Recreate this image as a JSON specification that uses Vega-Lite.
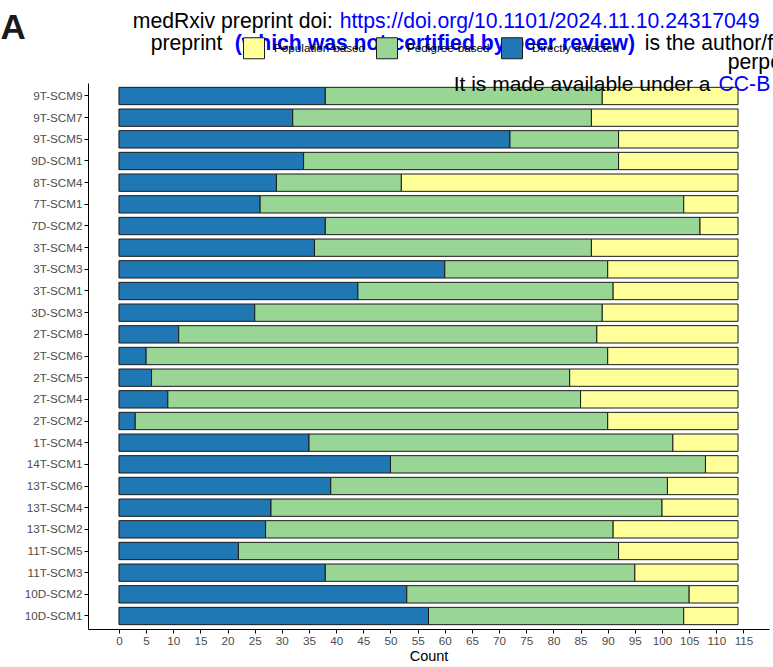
{
  "$schema": "https://vega.github.io/schema/vega-lite/v6.json",
  "autosize": "none",
  "width": 681,
  "height": 546,
  "padding": {"left": 88, "top": 83, "right": 4, "bottom": 38},
  "background": "white",
  "config": {
    "view": {"stroke": null},
    "font": "Liberation Sans",
    "axis": {"grid": false, "domainColor": "black", "domainWidth": 1, "tickColor": "black", "tickWidth": 1, "tickSize": 4, "labelColor": "#4D4D4D", "labelFontSize": 11.7, "labelFont": "Liberation Sans", "titleFont": "Liberation Sans"},
    "axisX": {"labelFlush": false, "labelOverlap": false, "labelPadding": 2, "titleFontSize": 14.5, "titleFontWeight": "normal", "titleColor": "black", "titlePadding": 3},
    "axisY": {"labelPadding": 2},
    "legend": {"labelFont": "Liberation Sans"}
  },
  "datasets": {
    "loci": [
      {"locus": "9T-SCM9", "type": "Directly detected", "count": 38}, {"locus": "9T-SCM9", "type": "Pedigree-based", "count": 51}, {"locus": "9T-SCM9", "type": "Population-based", "count": 25},
      {"locus": "9T-SCM7", "type": "Directly detected", "count": 32}, {"locus": "9T-SCM7", "type": "Pedigree-based", "count": 55}, {"locus": "9T-SCM7", "type": "Population-based", "count": 27},
      {"locus": "9T-SCM5", "type": "Directly detected", "count": 72}, {"locus": "9T-SCM5", "type": "Pedigree-based", "count": 20}, {"locus": "9T-SCM5", "type": "Population-based", "count": 22},
      {"locus": "9D-SCM1", "type": "Directly detected", "count": 34}, {"locus": "9D-SCM1", "type": "Pedigree-based", "count": 58}, {"locus": "9D-SCM1", "type": "Population-based", "count": 22},
      {"locus": "8T-SCM4", "type": "Directly detected", "count": 29}, {"locus": "8T-SCM4", "type": "Pedigree-based", "count": 23}, {"locus": "8T-SCM4", "type": "Population-based", "count": 62},
      {"locus": "7T-SCM1", "type": "Directly detected", "count": 26}, {"locus": "7T-SCM1", "type": "Pedigree-based", "count": 78}, {"locus": "7T-SCM1", "type": "Population-based", "count": 10},
      {"locus": "7D-SCM2", "type": "Directly detected", "count": 38}, {"locus": "7D-SCM2", "type": "Pedigree-based", "count": 69}, {"locus": "7D-SCM2", "type": "Population-based", "count": 7},
      {"locus": "3T-SCM4", "type": "Directly detected", "count": 36}, {"locus": "3T-SCM4", "type": "Pedigree-based", "count": 51}, {"locus": "3T-SCM4", "type": "Population-based", "count": 27},
      {"locus": "3T-SCM3", "type": "Directly detected", "count": 60}, {"locus": "3T-SCM3", "type": "Pedigree-based", "count": 30}, {"locus": "3T-SCM3", "type": "Population-based", "count": 24},
      {"locus": "3T-SCM1", "type": "Directly detected", "count": 44}, {"locus": "3T-SCM1", "type": "Pedigree-based", "count": 47}, {"locus": "3T-SCM1", "type": "Population-based", "count": 23},
      {"locus": "3D-SCM3", "type": "Directly detected", "count": 25}, {"locus": "3D-SCM3", "type": "Pedigree-based", "count": 64}, {"locus": "3D-SCM3", "type": "Population-based", "count": 25},
      {"locus": "2T-SCM8", "type": "Directly detected", "count": 11}, {"locus": "2T-SCM8", "type": "Pedigree-based", "count": 77}, {"locus": "2T-SCM8", "type": "Population-based", "count": 26},
      {"locus": "2T-SCM6", "type": "Directly detected", "count": 5}, {"locus": "2T-SCM6", "type": "Pedigree-based", "count": 85}, {"locus": "2T-SCM6", "type": "Population-based", "count": 24},
      {"locus": "2T-SCM5", "type": "Directly detected", "count": 6}, {"locus": "2T-SCM5", "type": "Pedigree-based", "count": 77}, {"locus": "2T-SCM5", "type": "Population-based", "count": 31},
      {"locus": "2T-SCM4", "type": "Directly detected", "count": 9}, {"locus": "2T-SCM4", "type": "Pedigree-based", "count": 76}, {"locus": "2T-SCM4", "type": "Population-based", "count": 29},
      {"locus": "2T-SCM2", "type": "Directly detected", "count": 3}, {"locus": "2T-SCM2", "type": "Pedigree-based", "count": 87}, {"locus": "2T-SCM2", "type": "Population-based", "count": 24},
      {"locus": "1T-SCM4", "type": "Directly detected", "count": 35}, {"locus": "1T-SCM4", "type": "Pedigree-based", "count": 67}, {"locus": "1T-SCM4", "type": "Population-based", "count": 12},
      {"locus": "14T-SCM1", "type": "Directly detected", "count": 50}, {"locus": "14T-SCM1", "type": "Pedigree-based", "count": 58}, {"locus": "14T-SCM1", "type": "Population-based", "count": 6},
      {"locus": "13T-SCM6", "type": "Directly detected", "count": 39}, {"locus": "13T-SCM6", "type": "Pedigree-based", "count": 62}, {"locus": "13T-SCM6", "type": "Population-based", "count": 13},
      {"locus": "13T-SCM4", "type": "Directly detected", "count": 28}, {"locus": "13T-SCM4", "type": "Pedigree-based", "count": 72}, {"locus": "13T-SCM4", "type": "Population-based", "count": 14},
      {"locus": "13T-SCM2", "type": "Directly detected", "count": 27}, {"locus": "13T-SCM2", "type": "Pedigree-based", "count": 64}, {"locus": "13T-SCM2", "type": "Population-based", "count": 23},
      {"locus": "11T-SCM5", "type": "Directly detected", "count": 22}, {"locus": "11T-SCM5", "type": "Pedigree-based", "count": 70}, {"locus": "11T-SCM5", "type": "Population-based", "count": 22},
      {"locus": "11T-SCM3", "type": "Directly detected", "count": 38}, {"locus": "11T-SCM3", "type": "Pedigree-based", "count": 57}, {"locus": "11T-SCM3", "type": "Population-based", "count": 19},
      {"locus": "10D-SCM2", "type": "Directly detected", "count": 53}, {"locus": "10D-SCM2", "type": "Pedigree-based", "count": 52}, {"locus": "10D-SCM2", "type": "Population-based", "count": 9},
      {"locus": "10D-SCM1", "type": "Directly detected", "count": 57}, {"locus": "10D-SCM1", "type": "Pedigree-based", "count": 47}, {"locus": "10D-SCM1", "type": "Population-based", "count": 10}
    ],
    "one": [{}]
  },
  "layer": [
    {
      "data": {"name": "loci"},
      "mark": {"type": "bar", "stroke": "#1a1a1a", "strokeWidth": 1},
      "encoding": {
        "y": {
          "field": "locus", "type": "nominal",
          "scale": {"domain": ["9T-SCM9","9T-SCM7","9T-SCM5","9D-SCM1","8T-SCM4","7T-SCM1","7D-SCM2","3T-SCM4","3T-SCM3","3T-SCM1","3D-SCM3","2T-SCM8","2T-SCM6","2T-SCM5","2T-SCM4","2T-SCM2","1T-SCM4","14T-SCM1","13T-SCM6","13T-SCM4","13T-SCM2","11T-SCM5","11T-SCM3","10D-SCM2","10D-SCM1"], "paddingInner": 0.2, "paddingOuter": 0.2},
          "axis": {"title": null}
        },
        "x": {
          "field": "count", "type": "quantitative", "stack": "zero",
          "scale": {"domain": [-5.7, 119.7], "nice": false, "zero": false},
          "axis": {"title": "Count", "values": [0,5,10,15,20,25,30,35,40,45,50,55,60,65,70,75,80,85,90,95,100,105,110,115]}
        },
        "color": {
          "field": "type", "type": "nominal",
          "scale": {"domain": ["Population-based", "Pedigree-based", "Directly detected"], "range": ["#FFFF99", "#99D594", "#1F78B4"]},
          "legend": {"title": null, "orient": "none", "legendX": 155, "legendY": -46, "direction": "horizontal", "symbolType": "square", "symbolSize": 441, "symbolStrokeColor": "#1a1a1a", "symbolStrokeWidth": 1, "symbolOpacity": 1, "labelFontSize": 11.7, "labelColor": "black", "labelOffset": 9, "columnPadding": 9, "padding": 0}
        },
        "order": {"field": "type", "sort": "ascending"}
      }
    },
    {
      "data": {"name": "one"},
      "mark": {"type": "text", "text": "A", "fontSize": 35, "fontWeight": "bold", "align": "left", "baseline": "alphabetic", "dy": -57.5, "color": "#1a1a1a"},
      "encoding": {"x": {"datum": -21.8, "type": "quantitative", "axis": {"title": "Count", "values": [0,5,10,15,20,25,30,35,40,45,50,55,60,65,70,75,80,85,90,95,100,105,110,115]}}, "y": {"datum": "9T-SCM9", "type": "nominal", "axis": {"title": null}}}
    },
    {
      "data": {"name": "one"},
      "mark": {"type": "text", "text": "medRxiv preprint doi:", "fontSize": 21.2, "align": "left", "baseline": "alphabetic", "dy": -68.5, "color": "black"},
      "encoding": {"x": {"datum": 2.54, "type": "quantitative", "axis": {"title": "Count", "values": [0,5,10,15,20,25,30,35,40,45,50,55,60,65,70,75,80,85,90,95,100,105,110,115]}}, "y": {"datum": "9T-SCM9", "type": "nominal", "axis": {"title": null}}}
    },
    {
      "data": {"name": "one"},
      "mark": {"type": "text", "text": "https://doi.org/10.1101/2024.11.10.24317049", "fontSize": 21.2, "align": "left", "baseline": "alphabetic", "dy": -68.5, "color": "#0000FF"},
      "encoding": {"x": {"datum": 40.64, "type": "quantitative", "axis": {"title": "Count", "values": [0,5,10,15,20,25,30,35,40,45,50,55,60,65,70,75,80,85,90,95,100,105,110,115]}}, "y": {"datum": "9T-SCM9", "type": "nominal", "axis": {"title": null}}}
    },
    {
      "data": {"name": "one"},
      "mark": {"type": "text", "text": ";", "fontSize": 21.2, "align": "left", "baseline": "alphabetic", "dy": -68.5, "color": "black"},
      "encoding": {"x": {"datum": 120.6, "type": "quantitative", "axis": {"title": "Count", "values": [0,5,10,15,20,25,30,35,40,45,50,55,60,65,70,75,80,85,90,95,100,105,110,115]}}, "y": {"datum": "9T-SCM9", "type": "nominal", "axis": {"title": null}}}
    },
    {
      "data": {"name": "one"},
      "mark": {"type": "text", "text": "preprint", "fontSize": 21.2, "align": "left", "baseline": "alphabetic", "dy": -46.5, "color": "black"},
      "encoding": {"x": {"datum": 5.84, "type": "quantitative", "axis": {"title": "Count", "values": [0,5,10,15,20,25,30,35,40,45,50,55,60,65,70,75,80,85,90,95,100,105,110,115]}}, "y": {"datum": "9T-SCM9", "type": "nominal", "axis": {"title": null}}}
    },
    {
      "data": {"name": "one"},
      "mark": {"type": "text", "text": "(which was not certified by peer review)", "fontSize": 21.2, "fontWeight": "bold", "align": "left", "baseline": "alphabetic", "dy": -46.5, "color": "#0000FF"},
      "encoding": {"x": {"datum": 21.31, "type": "quantitative", "axis": {"title": "Count", "values": [0,5,10,15,20,25,30,35,40,45,50,55,60,65,70,75,80,85,90,95,100,105,110,115]}}, "y": {"datum": "9T-SCM9", "type": "nominal", "axis": {"title": null}}}
    },
    {
      "data": {"name": "one"},
      "mark": {"type": "text", "text": "is the author/f", "fontSize": 21.2, "align": "left", "baseline": "alphabetic", "dy": -46.5, "color": "black"},
      "encoding": {"x": {"datum": 96.81, "type": "quantitative", "axis": {"title": "Count", "values": [0,5,10,15,20,25,30,35,40,45,50,55,60,65,70,75,80,85,90,95,100,105,110,115]}}, "y": {"datum": "9T-SCM9", "type": "nominal", "axis": {"title": null}}}
    },
    {
      "data": {"name": "one"},
      "mark": {"type": "text", "text": "perpe", "fontSize": 21.2, "align": "left", "baseline": "alphabetic", "dy": -27, "color": "black"},
      "encoding": {"x": {"datum": 112.1, "type": "quantitative", "axis": {"title": "Count", "values": [0,5,10,15,20,25,30,35,40,45,50,55,60,65,70,75,80,85,90,95,100,105,110,115]}}, "y": {"datum": "9T-SCM9", "type": "nominal", "axis": {"title": null}}}
    },
    {
      "data": {"name": "one"},
      "mark": {"type": "text", "text": "It is made available under a", "fontSize": 21, "align": "left", "baseline": "alphabetic", "dy": -5.5, "color": "black"},
      "encoding": {"x": {"datum": 61.64, "type": "quantitative", "axis": {"title": "Count", "values": [0,5,10,15,20,25,30,35,40,45,50,55,60,65,70,75,80,85,90,95,100,105,110,115]}}, "y": {"datum": "9T-SCM9", "type": "nominal", "axis": {"title": null}}}
    },
    {
      "data": {"name": "one"},
      "mark": {"type": "text", "text": "CC-B", "fontSize": 21.2, "align": "left", "baseline": "alphabetic", "dy": -5.5, "color": "#0000FF"},
      "encoding": {"x": {"datum": 110.4, "type": "quantitative", "axis": {"title": "Count", "values": [0,5,10,15,20,25,30,35,40,45,50,55,60,65,70,75,80,85,90,95,100,105,110,115]}}, "y": {"datum": "9T-SCM9", "type": "nominal", "axis": {"title": null}}}
    }
  ]
}
